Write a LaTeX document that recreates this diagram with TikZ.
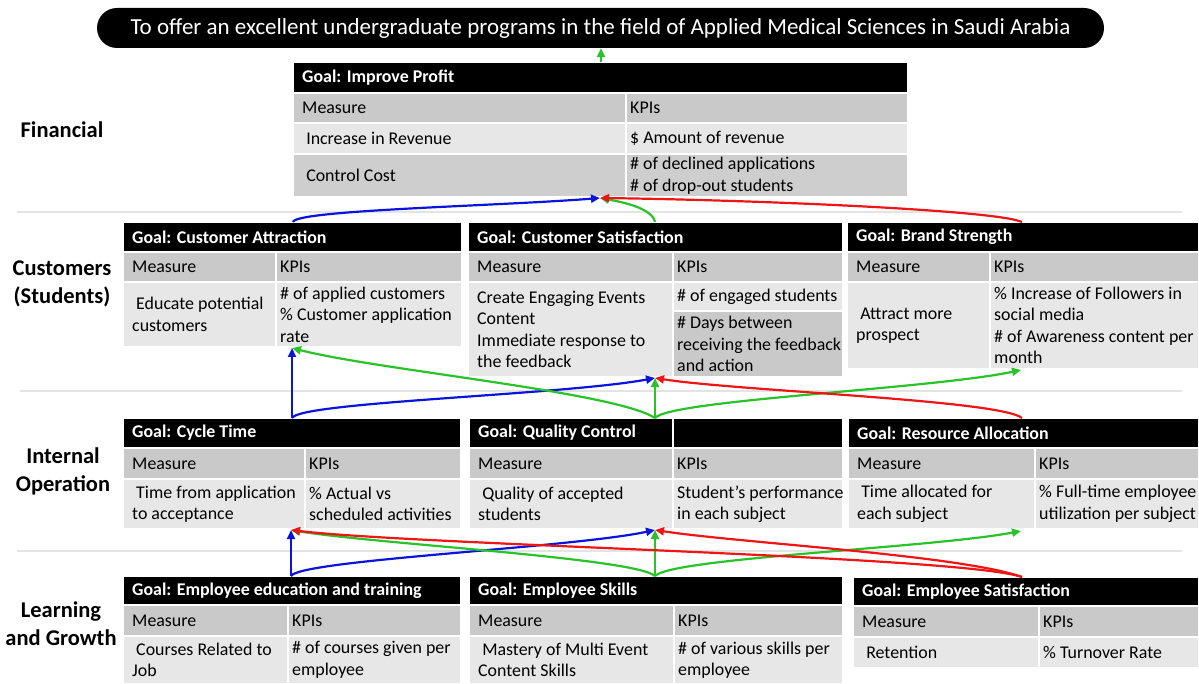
\documentclass[tikz,border=0pt]{standalone}
\usepackage{fontspec}
\setmainfont{Carlito}
\usetikzlibrary{arrows.meta}

\definecolor{cellmid}{RGB}{201,201,201}
\definecolor{celllight}{RGB}{231,231,231}
\definecolor{celldark}{RGB}{206,206,206}
\definecolor{sepgray}{RGB}{228,228,228}
\definecolor{linkblue}{RGB}{10,20,220}
\definecolor{linkgreen}{RGB}{40,195,40}
\definecolor{linkred}{RGB}{240,20,20}

\begin{document}
\begin{tikzpicture}[x=1pt, y=-1pt,
        every node/.style={font=\fontsize{17.9}{21.5}\selectfont},
        cell/.style={draw=white, line width=2pt, anchor=north west, inner sep=0pt, outer sep=0pt},
        head/.style={cell, fill=black},
        base/.style={anchor=west, align=left, inner sep=0pt},
        mtxt/.style={base, xshift=9pt},
        ktxt/.style={base, xshift=4pt},
        htxt/.style={base, xshift=9pt, text=white, font=\fontsize{17.9}{21.5}\selectfont\bfseries},
        side/.style={align=center, font=\fontsize{22.5}{28}\selectfont\bfseries},
        link/.style={line width=2.2pt, -{Triangle[length=9pt, width=8pt]}},
        sep/.style={draw=sepgray, line width=1.2pt}]
    \useasboundingbox (0,0) rectangle (1199,684);

    % perspective separators
    \draw[sep] (17,212) -- (1182,212);
    \draw[sep] (20,391) -- (1182,391);
    \draw[sep] (17,551) -- (1182,551);

    % mission
    \node[fill=black, text=white, rounded corners=20pt, minimum width=1007pt, minimum height=40pt,
        font=\fontsize{23}{27}\selectfont] (mission) at (600.5,28)
        {To offer an excellent undergraduate programs in the field of Applied Medical Sciences in Saudi Arabia};

    % perspectives
    \node[side] (lFin) at (62,130) {Financial};
    \node[side] (lCus) at (62,284) {Customers\\(Students)};
    \node[side] (lInt) at (63,471) {Internal\\Operation};
    \node[side] (lLrn) at (61,624) {Learning\\and Growth};

    % financial
    \node[head, minimum width=615pt, minimum height=31pt, label={[htxt]west:{Goal: Improve Profit}}] (fpH) at (293,62) {};
    \node[cell, fill=cellmid, minimum width=333pt, minimum height=30pt, label={[mtxt]west:{Measure}}] (fpM) at (293,93) {};
    \node[cell, fill=cellmid, minimum width=282pt, minimum height=30pt, label={[ktxt]west:{KPIs}}] (fpK) at (626,93) {};
    \node[cell, fill=celllight, minimum width=333pt, minimum height=31pt, label={[mtxt]west:{\ Increase in Revenue}}] (fpM1) at (293,123) {};
    \node[cell, fill=celllight, minimum width=282pt, minimum height=31pt, label={[ktxt]west:{\$ Amount of revenue}}] (fpK1) at (626,123) {};
    \node[cell, fill=celldark, minimum width=333pt, minimum height=43pt, label={[mtxt]west:{\ Control Cost}}] (fpM2) at (293,154) {};
    \node[cell, fill=celldark, minimum width=282pt, minimum height=43pt, label={[ktxt]west:{\# of declined applications\\\# of drop-out students}}] (fpK2) at (626,154) {};

    % customers
    \node[head, minimum width=339pt, minimum height=30pt, label={[htxt]west:{Goal: Customer Attraction}}] (caH) at (123,222) {};
    \node[cell, fill=cellmid, minimum width=153pt, minimum height=30pt, label={[mtxt]west:{Measure}}] (caM) at (123,252) {};
    \node[cell, fill=cellmid, minimum width=186pt, minimum height=30pt, label={[ktxt]west:{KPIs}}] (caK) at (276,252) {};
    \node[cell, fill=celllight, minimum width=153pt, minimum height=65pt, label={[mtxt]west:{\ Educate potential\\customers}}] (caM1) at (123,282) {};
    \node[cell, fill=celllight, minimum width=186pt, minimum height=65pt, label={[ktxt]west:{\# of applied customers\\\% Customer application\\rate}}] (caK1) at (276,282) {};

    \node[head, minimum width=375pt, minimum height=30pt, label={[htxt]west:{Goal: Customer Satisfaction}}] (csH) at (468,222) {};
    \node[cell, fill=cellmid, minimum width=205pt, minimum height=30pt, label={[mtxt]west:{Measure}}] (csM) at (468,252) {};
    \node[cell, fill=cellmid, minimum width=170pt, minimum height=30pt, label={[ktxt]west:{KPIs}}] (csK) at (673,252) {};
    \node[cell, fill=celllight, minimum width=205pt, minimum height=95pt, label={[mtxt]west:{Create Engaging Events\\Content\\Immediate response to\\the feedback}}] (csM1) at (468,282) {};
    \node[cell, fill=celllight, minimum width=170pt, minimum height=29pt, label={[ktxt]west:{\# of engaged students}}] (csK1) at (673,282) {};
    \node[cell, fill=cellmid, minimum width=170pt, minimum height=66pt, label={[ktxt]west:{\# Days between\\receiving the feedback\\and action}}] (csK2) at (673,311) {};

    \node[head, minimum width=352pt, minimum height=30pt, label={[htxt]west:{Goal: Brand Strength}}] (bsH) at (847,222) {};
    \node[cell, fill=cellmid, minimum width=143pt, minimum height=30pt, label={[mtxt]west:{Measure}}] (bsM) at (847,252) {};
    \node[cell, fill=cellmid, minimum width=209pt, minimum height=30pt, label={[ktxt]west:{KPIs}}] (bsK) at (990,252) {};
    \node[cell, fill=celllight, minimum width=143pt, minimum height=87pt, label={[mtxt]west:{\ Attract more\\prospect}}] (bsM1) at (847,282) {};
    \node[cell, fill=celllight, minimum width=209pt, minimum height=87pt, label={[ktxt]west:{\% Increase of Followers in\\social media\\\# of Awareness content per\\month}}] (bsK1) at (990,282) {};

    % internal operation
    \node[head, minimum width=338pt, minimum height=30pt, label={[htxt]west:{Goal: Cycle Time}}] (ctH) at (123,418) {};
    \node[cell, fill=cellmid, minimum width=182pt, minimum height=31pt, label={[mtxt]west:{Measure}}] (ctM) at (123,448) {};
    \node[cell, fill=cellmid, minimum width=156pt, minimum height=31pt, label={[ktxt]west:{KPIs}}] (ctK) at (305,448) {};
    \node[cell, fill=celllight, minimum width=182pt, minimum height=50pt, label={[mtxt]west:{\ Time from application\\to acceptance}}] (ctM1) at (123,479) {};
    \node[cell, fill=celllight, minimum width=156pt, minimum height=50pt, label={[ktxt]west:{\% Actual vs\\scheduled activities}}] (ctK1) at (305,479) {};

    \node[head, minimum width=204pt, minimum height=30pt, label={[htxt]west:{Goal: Quality Control}}] (qcH) at (469,418) {};
    \node[head, minimum width=170pt, minimum height=30pt] (qcH2) at (673,418) {};
    \node[cell, fill=cellmid, minimum width=204pt, minimum height=31pt, label={[mtxt]west:{Measure}}] (qcM) at (469,448) {};
    \node[cell, fill=cellmid, minimum width=170pt, minimum height=31pt, label={[ktxt]west:{KPIs}}] (qcK) at (673,448) {};
    \node[cell, fill=celllight, minimum width=204pt, minimum height=50pt, label={[mtxt]west:{\ Quality of accepted\\students}}] (qcM1) at (469,479) {};
    \node[cell, fill=celllight, minimum width=170pt, minimum height=50pt, label={[ktxt]west:{Student’s performance\\in each subject}}] (qcK1) at (673,479) {};

    \node[head, minimum width=351pt, minimum height=30pt, label={[htxt]west:{Goal: Resource Allocation}}] (raH) at (848,418) {};
    \node[cell, fill=cellmid, minimum width=187pt, minimum height=31pt, label={[mtxt]west:{Measure}}] (raM) at (848,448) {};
    \node[cell, fill=cellmid, minimum width=164pt, minimum height=31pt, label={[ktxt]west:{KPIs}}] (raK) at (1035,448) {};
    \node[cell, fill=celllight, minimum width=187pt, minimum height=50pt, label={[mtxt]west:{\ Time allocated for\\each subject}}] (raM1) at (848,479) {};
    \node[cell, fill=celllight, minimum width=164pt, minimum height=50pt, label={[ktxt]west:{\% Full-time employee\\utilization per subject}}] (raK1) at (1035,479) {};

    % learning and growth
    \node[head, minimum width=338pt, minimum height=29pt, label={[htxt]west:{Goal: Employee education and training}}] (eetH) at (123,576) {};
    \node[cell, fill=cellmid, minimum width=165pt, minimum height=31pt, label={[mtxt]west:{Measure}}] (eetM) at (123,605) {};
    \node[cell, fill=cellmid, minimum width=173pt, minimum height=31pt, label={[ktxt]west:{KPIs}}] (eetK) at (288,605) {};
    \node[cell, fill=celllight, minimum width=165pt, minimum height=48pt, label={[mtxt]west:{\ Courses Related to\\Job}}] (eetM1) at (123,636) {};
    \node[cell, fill=celllight, minimum width=173pt, minimum height=48pt, label={[ktxt]west:{\# of courses given per\\employee}}] (eetK1) at (288,636) {};

    \node[head, minimum width=374pt, minimum height=29pt, label={[htxt]west:{Goal: Employee Skills}}] (esH) at (469,576) {};
    \node[cell, fill=cellmid, minimum width=205pt, minimum height=31pt, label={[mtxt]west:{Measure}}] (esM) at (469,605) {};
    \node[cell, fill=cellmid, minimum width=169pt, minimum height=31pt, label={[ktxt]west:{KPIs}}] (esK) at (674,605) {};
    \node[cell, fill=celllight, minimum width=205pt, minimum height=48pt, label={[mtxt]west:{\ Mastery of Multi Event\\Content Skills}}] (esM1) at (469,636) {};
    \node[cell, fill=celllight, minimum width=169pt, minimum height=48pt, label={[ktxt]west:{\# of various skills per\\employee}}] (esK1) at (674,636) {};

    \node[head, minimum width=346pt, minimum height=29pt, label={[htxt]west:{Goal: Employee Satisfaction}}] (esatH) at (853,577) {};
    \node[cell, fill=cellmid, minimum width=186pt, minimum height=31pt, label={[mtxt]west:{Measure}}] (esatM) at (853,606) {};
    \node[cell, fill=cellmid, minimum width=160pt, minimum height=31pt, label={[ktxt]west:{KPIs}}] (esatK) at (1039,606) {};
    \node[cell, fill=celllight, minimum width=186pt, minimum height=31pt, label={[mtxt]west:{\ Retention}}] (esatM1) at (853,637) {};
    \node[cell, fill=celllight, minimum width=160pt, minimum height=31pt, label={[ktxt]west:{\% Turnover Rate}}] (esatK1) at (1039,637) {};

    % link ends
    \coordinate (fpOut) at (601,62);    \coordinate (fpIn) at (600,198);
    \coordinate (caOut) at (293,222);   \coordinate (caIn) at (292,348);
    \coordinate (csOut) at (655,222);   \coordinate (csIn) at (655,378);
    \coordinate (bsOut) at (1022,222);  \coordinate (bsIn) at (1021,370);
    \coordinate (ctOut) at (292,418);   \coordinate (ctIn) at (291,530);
    \coordinate (qcOut) at (655,418);   \coordinate (qcIn) at (655,530);
    \coordinate (raOut) at (1022,418);  \coordinate (raIn) at (1021,531);
    \coordinate (eetOut) at (291,576);  \coordinate (esOut) at (655,576);
    \coordinate (esatOut) at (1022,577);

    % cause and effect links
    \draw[link, linkgreen] (fpOut) -- (fpOut |- mission.south);
    \draw[link, linkblue] (caOut) .. controls +(2,-12) and +(-100,8) .. (fpIn);
    \draw[link, linkgreen] (csOut) .. controls +(-3,-14) and +(22,4) .. (fpIn);
    \draw[link, linkred] (bsOut) .. controls +(-27,-12) and +(155,2) .. (fpIn);

    \draw[link, linkblue] (ctOut) -- (caIn);
    \draw[link, linkblue] (ctOut) .. controls +(8,-16) and +(-92,17) .. (csIn);
    \draw[link, linkgreen] (qcOut) -- (csIn);
    \draw[link, linkgreen] (qcOut) .. controls +(-40,-26) and +(85,22) .. (caIn);
    \draw[link, linkgreen] (qcOut) .. controls +(15,-18) and +(-90,19) .. (bsIn);
    \draw[link, linkred] (raOut) .. controls +(-22,-18) and +(83,13) .. (csIn);

    \draw[link, linkblue] (eetOut) -- (ctIn);
    \draw[link, linkblue] (eetOut) .. controls +(9,-16) and +(-85,18) .. (qcIn);
    \draw[link, linkgreen] (esOut) -- (qcIn);
    \draw[link, linkgreen] (esOut) .. controls +(-20,-18) and +(85,14) .. (ctIn);
    \draw[link, linkgreen] (esOut) .. controls +(17,-18) and +(-91,17) .. (raIn);
    \draw[link, linkred] (esatOut) .. controls +(-62,-22) and +(85,13) .. (qcIn);
    \draw[link, linkred] (esatOut) .. controls +(-62,-21) and +(125,15) .. (ctIn);
\end{tikzpicture}
\end{document}
